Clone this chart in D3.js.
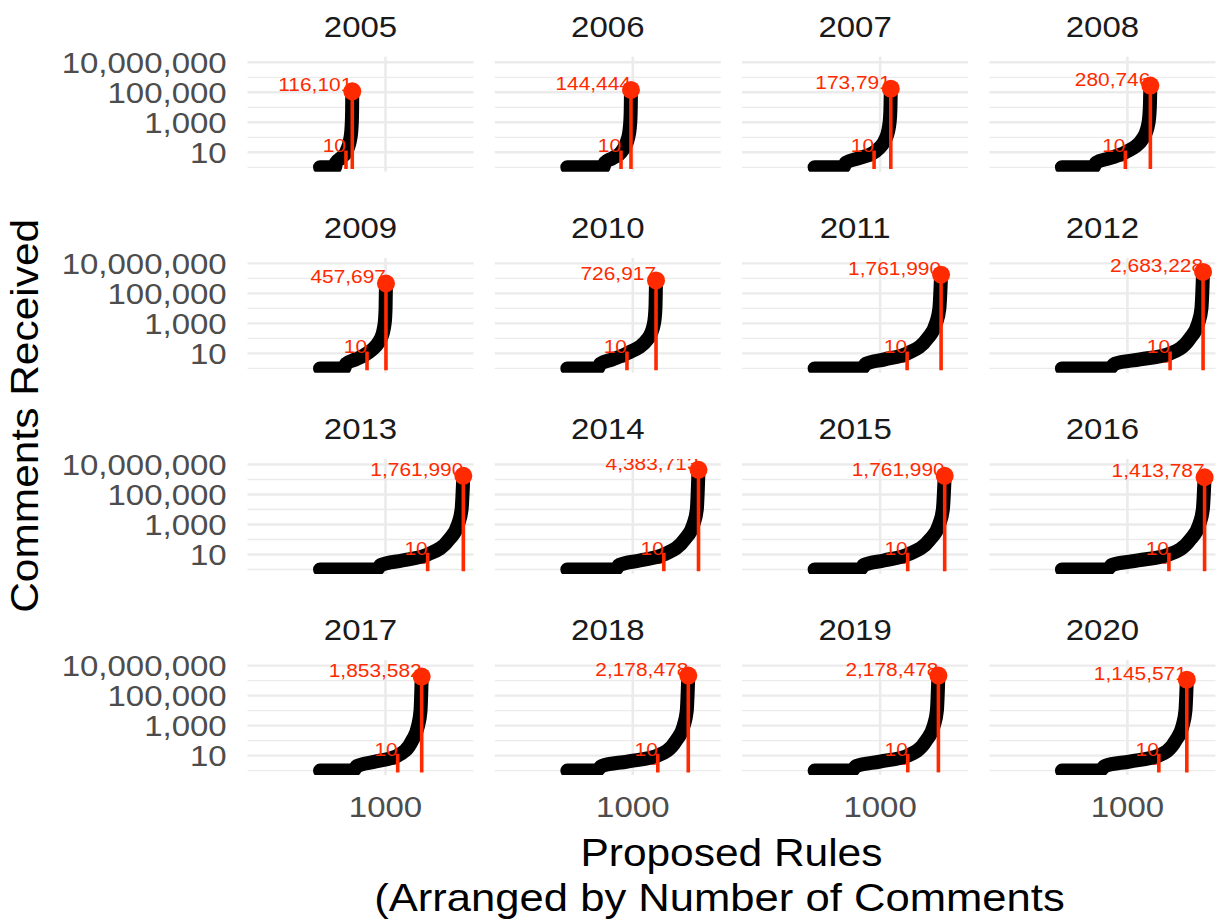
<!DOCTYPE html>
<html><head><meta charset="utf-8">
<script src="https://cdn.jsdelivr.net/npm/d3@7"></script>
<style>body{margin:0;background:#fff} text{font-family:"Liberation Sans",Arial,Helvetica,sans-serif}</style>
</head><body><svg id="c" width="1225" height="924"></svg>
<script>
// ---------- data ----------
const years = [2005,2006,2007,2008,2009,2010,2011,2012,2013,2014,2015,2016,2017,2018,2019,2020];
const maxComments = [116101,144444,173791,280746,457697,726917,1761990,2683228,1761990,4383713,1761990,1413787,1853582,2178478,2178478,1145571];
const maxRank = [493,972,1163,1350,1007,1354,1930,2154,2187,2002,1985,2177,1552,1846,1889,1906];
const tenRank = [397,820,908,969,718,911,1412,1651,1643,1473,1421,1633,1186,1381,1422,1479];
const tenValue = 10;
// comment counts at which the sorted curve was read, and the rank where each is reached
const curveValues = [1,1,2,4,10,100,1000,10000];
const curveRanks = [
 [1,230,243,314,397,467,486,491],
 [1,553,574,687,820,931,961,969],
 [1,440,477,674,908,1094,1145,1158],
 [1,483,522,726,969,1247,1323,1342],
 [1,370,398,544,718,929,987,1001],
 [1,466,502,689,911,1234,1323,1345],
 [1,725,780,1069,1412,1723,1852,1904],
 [1,730,804,1191,1651,1953,2079,2129],
 [1,866,928,1255,1643,1969,2105,2160],
 [1,735,794,1104,1473,1790,1923,1976],
 [1,695,753,1058,1421,1759,1900,1957],
 [1,690,765,1162,1633,1959,2095,2150],
 [1,510,564,848,1186,1406,1497,1534],
 [1,449,524,915,1381,1660,1776,1823],
 [1,568,636,995,1422,1702,1819,1866],
 [1,583,655,1031,1479,1735,1842,1885]
];
const yTicks = [10,1000,1e5,1e7];
const yMinor = [1,100,1e4,1e6];
const xTicks = [1000];
const xDomain = [-1105, 2342];
const yDomain = [Math.pow(10,-0.2933), Math.pow(10,7.3733)];
const xTitle = ["Proposed Rules", "(Arranged by Number of Comments"];
const yTitle = "Comments Received";

// ---------- layout ----------
const panelW = 226, panelH = 115;
const left0 = 247.5, gapX = 21.3;
const top0 = 56.7, gapY = 86.1;
const RED = "#ff2a00", GRID = "#ebebeb";
const SX = 1.1; // horizontal glyph stretch seen in the reference

const svg = d3.select("#c");
const x = d3.scaleLinear().domain(xDomain).range([0, panelW]);
const y = d3.scaleLog().domain(yDomain).range([panelH, 0]);
const fmt = d3.format(",");

function txt(g, px, py, s, size, fill, anchor, rot, sx) {
  return g.append("text")
    .attr("transform", `translate(${px},${py})` + (rot ? ` rotate(${rot})` : "") + ` scale(${sx || SX},1)`)
    .attr("text-anchor", anchor).attr("font-size", size).attr("fill", fill).text(s);
}

const defs = svg.append("defs");
defs.append("clipPath").attr("id","pclip").append("rect")
  .attr("x",0).attr("y",0).attr("width",panelW).attr("height",panelH);

const line = d3.line().x(d => x(d[0])).y(d => y(d[1])).curve(d3.curveMonotoneX);

years.forEach((yr, i) => {
  const col = i % 4, row = Math.floor(i / 4);
  const px = left0 + col * (panelW + gapX);
  const py = top0 + row * (panelH + gapY);
  const g = svg.append("g").attr("transform", `translate(${px},${py})`);

  // grid
  g.selectAll(".ymin").data(yMinor).join("line")
    .attr("x1",0).attr("x2",panelW).attr("y1",d=>y(d)).attr("y2",d=>y(d))
    .attr("stroke",GRID).attr("stroke-width",1.3);
  g.selectAll(".ymaj").data(yTicks).join("line")
    .attr("x1",0).attr("x2",panelW).attr("y1",d=>y(d)).attr("y2",d=>y(d))
    .attr("stroke",GRID).attr("stroke-width",2.4);
  g.selectAll(".xmaj").data(xTicks).join("line")
    .attr("x1",d=>x(d)).attr("x2",d=>x(d)).attr("y1",0).attr("y2",panelH)
    .attr("stroke",GRID).attr("stroke-width",2.6);

  // strip
  txt(svg, px + panelW/2, py - 20, String(yr), 30, "#1a1a1a", "middle");

  const c = g.append("g").attr("clip-path","url(#pclip)");

  // small open marker at the 10-comment rank
  c.append("circle").attr("cx", x(tenRank[i]) - 4).attr("cy", y(tenValue) + 4).attr("r", 5)
    .attr("fill","none").attr("stroke",RED).attr("stroke-width",1);

  // sorted comment curve
  const pts = curveRanks[i].map((r, j) => [r, curveValues[j]]).concat([[maxRank[i], maxComments[i]]]);
  c.append("path").attr("d", line(pts)).attr("fill","none").attr("stroke","#000")
    .attr("stroke-width",14).attr("stroke-linecap","round").attr("stroke-linejoin","round");

  // red segments
  c.append("line").attr("x1",x(tenRank[i])).attr("x2",x(tenRank[i]))
    .attr("y1",y(1)).attr("y2",y(tenValue)).attr("stroke",RED).attr("stroke-width",3.6).attr("stroke-linecap","square");
  c.append("line").attr("x1",x(maxRank[i])).attr("x2",x(maxRank[i]))
    .attr("y1",y(1)).attr("y2",y(maxComments[i])).attr("stroke",RED).attr("stroke-width",3.6).attr("stroke-linecap","square");

  // labels
  txt(c, x(tenRank[i]), y(tenValue), "10", 19, RED, "end");
  txt(c, x(maxRank[i]), y(maxComments[i]), fmt(maxComments[i]), 19, RED, "end");
  c.append("circle").attr("cx", x(maxRank[i])).attr("cy", y(maxComments[i])).attr("r", 9).attr("fill", RED);

  // axes
  if (col === 0) {
    yTicks.forEach(t => txt(svg, px - 20.8, py + y(t) + 10.7, fmt(t), 30, "#4d4d4d", "end"));
  }
  if (row === 3) {
    xTicks.forEach(t => txt(svg, px + x(t), py + panelH + 42, String(t), 30, "#4d4d4d", "middle"));
  }
});

// axis titles
const cx = left0 + (4*panelW + 3*gapX)/2;
txt(svg, cx, 866, xTitle[0], 38.6, "#000", "middle");
txt(svg, cx - 12, 911, xTitle[1], 38.6, "#000", "middle", 0, 1.13);
const cy = top0 + (4*panelH + 3*gapY)/2;
txt(svg, 38, cy, yTitle, 38.6, "#000", "middle", -90);
</script>
</body></html>
